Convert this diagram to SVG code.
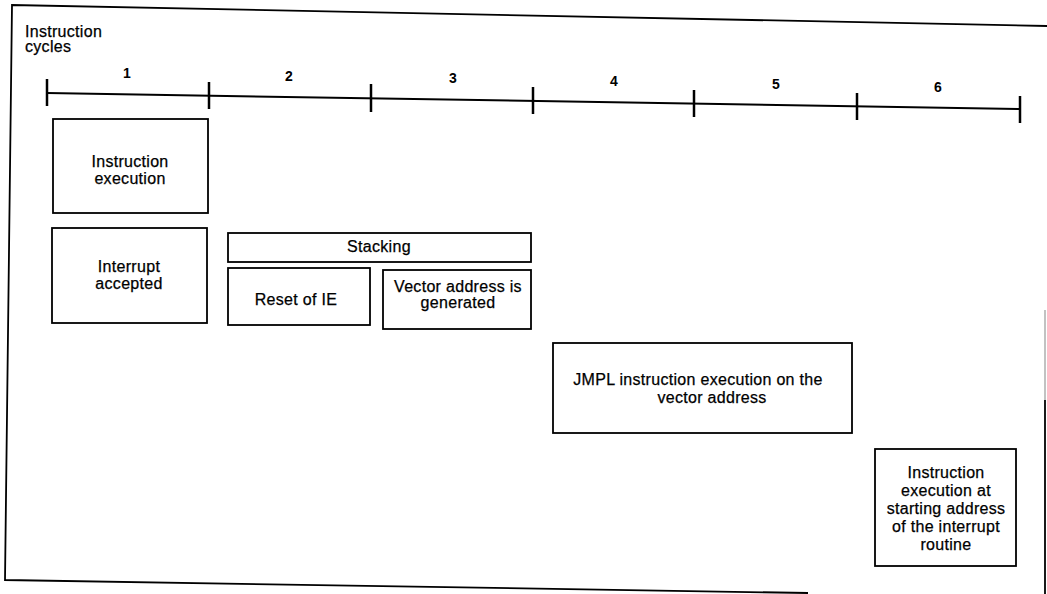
<svg xmlns="http://www.w3.org/2000/svg" width="1047" height="594" viewBox="0 0 1047 594">
<style>
  .box { fill: #fff; stroke: #000; stroke-width: 1.8; }
  .lbl { font-family: "Liberation Sans", Arial, sans-serif; font-size: 16px; letter-spacing: 0.3px; fill: #000; stroke: #000; stroke-width: 0.25; text-anchor: middle; }
  .num { font-family: "Liberation Sans", Arial, sans-serif; font-size: 14px; font-weight: bold; fill: #000; text-anchor: middle; }
  .frame { fill: none; stroke: #000; stroke-width: 1.8; }
  .axis { stroke: #000; stroke-width: 2; fill: none; }
  .tick { stroke: #000; stroke-width: 2.5; }
</style>
<rect x="0" y="0" width="1047" height="594" fill="#fff"/>
<g id="frame">
  <polyline class="frame" points="1047,26 12,5 5,580 808,593"/>
  <line x1="1045" y1="310" x2="1045" y2="400" stroke="#999" stroke-width="1.2"/>
  <line x1="1045" y1="400" x2="1045" y2="594" stroke="#000" stroke-width="1.8"/>
</g>
<g id="title">
  <text x="25" y="37" class="lbl" style="text-anchor:start">Instruction</text>
  <text x="25" y="52" class="lbl" style="text-anchor:start">cycles</text>
</g>
<g id="timeline">
  <line class="axis" x1="47" y1="93" x2="1020" y2="109"/>
  <line class="tick" x1="47" y1="79" x2="47" y2="106"/>
  <line class="tick" x1="209" y1="82" x2="209" y2="109"/>
  <line class="tick" x1="371" y1="84" x2="371" y2="112"/>
  <line class="tick" x1="533" y1="87" x2="533" y2="114"/>
  <line class="tick" x1="694" y1="90" x2="694" y2="117"/>
  <line class="tick" x1="857" y1="93" x2="857" y2="120"/>
  <line class="tick" x1="1020" y1="96" x2="1020" y2="123"/>
  <text class="num" x="127" y="78">1</text>
  <text class="num" x="289" y="81">2</text>
  <text class="num" x="453" y="83">3</text>
  <text class="num" x="614" y="86">4</text>
  <text class="num" x="776" y="89">5</text>
  <text class="num" x="938" y="92">6</text>
</g>
<g id="connectors"></g>
<g id="instruction-execution">
  <rect class="box" x="53" y="119" width="155" height="94"/>
  <text class="lbl" x="130" y="167">Instruction</text>
  <text class="lbl" x="130" y="184">execution</text>
</g>
<g id="interrupt-accepted">
  <rect class="box" x="52" y="228" width="155" height="95"/>
  <text class="lbl" x="129" y="272">Interrupt</text>
  <text class="lbl" x="129" y="289">accepted</text>
</g>
<g id="stacking">
  <rect class="box" x="228" y="233" width="303" height="29"/>
  <text class="lbl" x="379" y="252">Stacking</text>
</g>
<g id="reset-ie">
  <rect class="box" x="228" y="268" width="142" height="57"/>
  <text class="lbl" x="296" y="305">Reset of IE</text>
</g>
<g id="vector-address">
  <rect class="box" x="383" y="270" width="148" height="59"/>
  <text class="lbl" x="458" y="292">Vector address is</text>
  <text class="lbl" x="458" y="308">generated</text>
</g>
<g id="jmpl">
  <rect class="box" x="553" y="343" width="299" height="90"/>
  <text class="lbl" x="698" y="385">JMPL instruction execution on the</text>
  <text class="lbl" x="712" y="403">vector address</text>
</g>
<g id="isr-start">
  <rect class="box" x="875" y="449" width="141" height="117"/>
  <text class="lbl" x="946" y="478">Instruction</text>
  <text class="lbl" x="946" y="496">execution at</text>
  <text class="lbl" x="946" y="514">starting address</text>
  <text class="lbl" x="946" y="532">of the interrupt</text>
  <text class="lbl" x="946" y="550">routine</text>
</g>
</svg>
